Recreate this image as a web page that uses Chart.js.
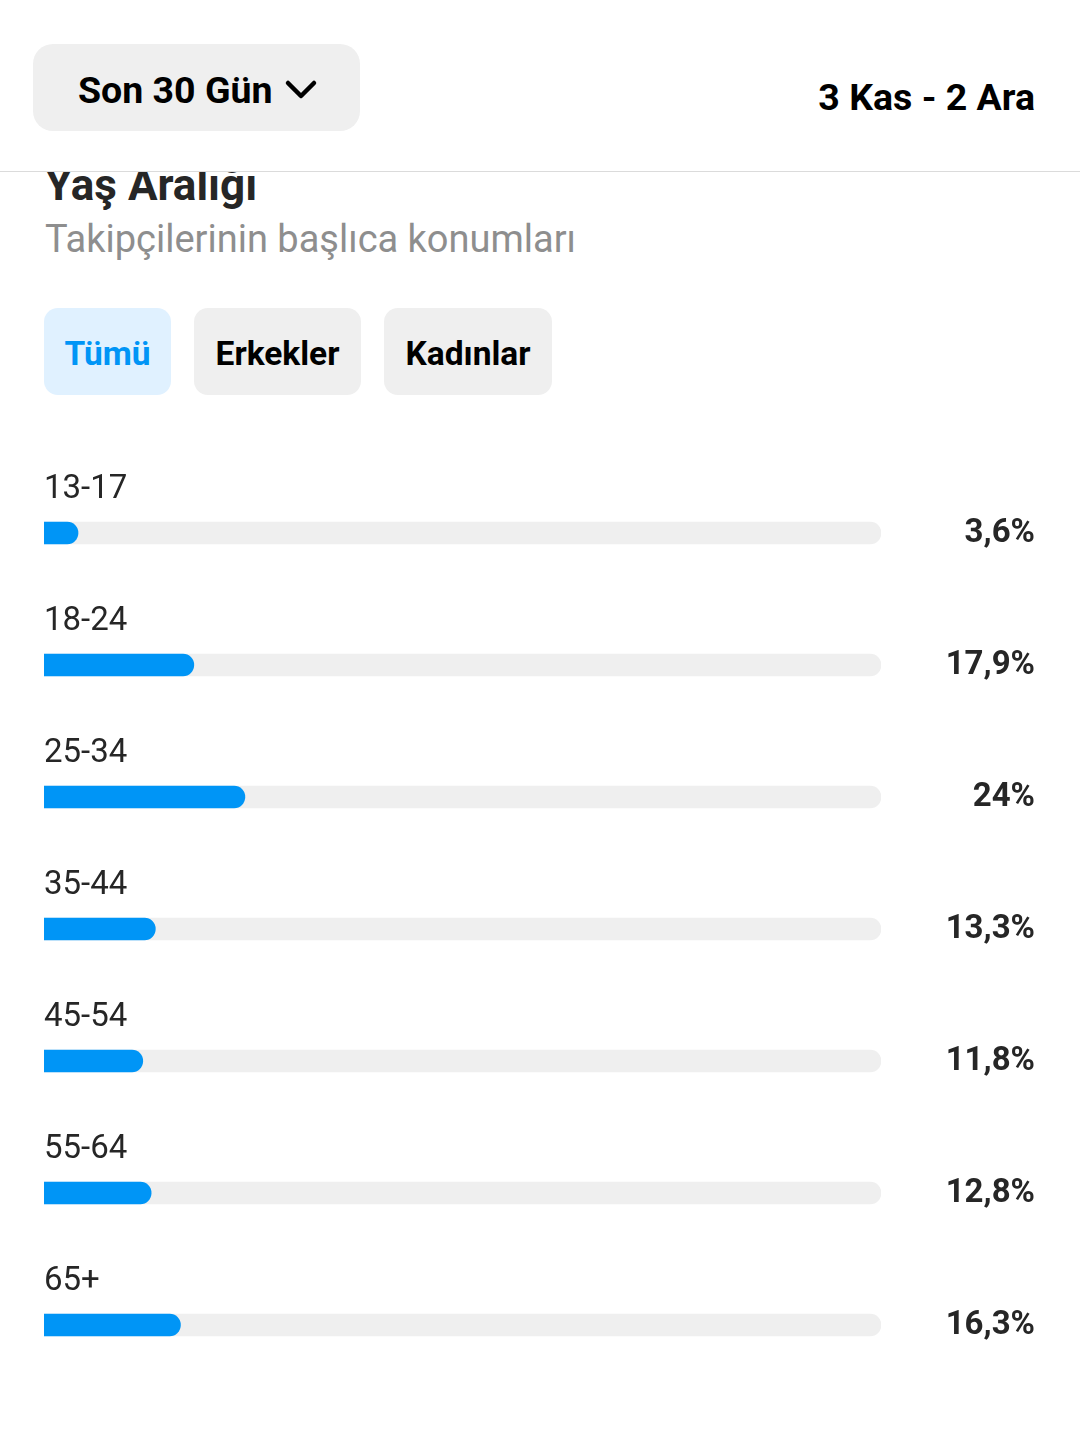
<!DOCTYPE html>
<html lang="tr">
<head>
  <meta charset="UTF-8" />
  <meta name="viewport" content="width=device-width, initial-scale=1.0" />
  <title>Yaş Aralığı</title>
  <script src="https://cdn.jsdelivr.net/npm/chart.js"></script>
  <style>
    html, body {
      margin: 0;
      padding: 0;
      background: #fff;
      font-family: Roboto, "Noto Sans", sans-serif;
      color: #262626;
    }
    .page {
      position: relative;
      width: 1080px;
      height: 1444px;
      overflow: hidden;
    }
    .header {
      position: absolute;
      left: 0; top: 0;
      width: 1080px;
      height: 171px;
      background: #fff;
      border-bottom: 1px solid #dbdbdb;
      z-index: 2;
    }
    .range-btn {
      position: absolute;
      left: 33px; top: 44px;
      width: 327px; height: 87px;
      background: #efefef;
      border-radius: 20px;
    }
    .range-btn span {
      position: absolute;
      left: 45px; top: 28px;
      font-size: 37.5px;
      font-weight: 700;
      line-height: 1;
      color: #000;
    }
    .range-btn svg {
      position: absolute;
      left: 251px; top: 35px;
    }
    .dates {
      position: absolute;
      right: 45px; top: 79px;
      font-size: 37.5px;
      font-weight: 700;
      line-height: 1;
      color: #000;
    }
    .title {
      position: absolute;
      left: 45px; top: 163px;
      font-size: 44px;
      font-weight: 700;
      line-height: 1;
      z-index: 1;
    }
    .subtitle {
      position: absolute;
      left: 45px; top: 220px;
      font-size: 38px;
      line-height: 1;
      color: #8e8e8e;
    }
    .tabs button {
      position: absolute;
      top: 308px;
      height: 87px;
      border: none;
      border-radius: 14px;
      background: #efefef;
      font-family: Roboto, sans-serif;
      font-size: 33.5px;
      font-weight: 700;
      color: #000;
      padding: 4px 0 0 0;
    }
    .tabs .active {
      background: #e0f1ff;
      color: #0095f6;
    }
    .chart-box {
      position: absolute;
      left: 0; top: 420px;
      width: 1080px; height: 1000px;
    }
  </style>
</head>
<body>
  <div class="page">
    <!-- Header -->
    <div class="header">
      <div class="range-btn">
        <span>Son 30 Gün</span>
        <svg width="34" height="24" viewBox="0 0 34 24">
          <polyline points="4,4 17,17 30,4" fill="none" stroke="#000" stroke-width="4.5" stroke-linecap="round" stroke-linejoin="round" />
        </svg>
      </div>
      <div class="dates">3 Kas - 2 Ara</div>
    </div>

    <div class="title">Yaş Aralığı</div>
    <div class="subtitle">Takipçilerinin başlıca konumları</div>

    <div class="tabs">
      <button class="active" style="left:44px;width:127px">Tümü</button>
      <button style="left:194px;width:167px">Erkekler</button>
      <button style="left:384px;width:168px">Kadınlar</button>
    </div>

    <div class="chart-box">
      <canvas id="ageChart"></canvas>
    </div>
  </div>

  <script>
    const ageGroups = ["13-17", "18-24", "25-34", "35-44", "45-54", "55-64", "65+"];
    const sharePct = [3.6, 17.9, 24, 13.3, 11.8, 12.8, 16.3];
    const trackPct = [100, 100, 100, 100, 100, 100, 100];

    // turkish style: decimal comma
    const fmt = v => String(v).replace(".", ",") + "%";

    const rowText = {
      id: "rowText",
      afterDatasetsDraw(chart) {
        const ctx = chart.ctx;
        const bars = chart.getDatasetMeta(0).data;
        ctx.save();
        ctx.fillStyle = "#262626";
        ctx.textBaseline = "alphabetic";
        bars.forEach((bar, i) => {
          ctx.font = "400 33px Roboto";
          ctx.textAlign = "left";
          ctx.fillText(ageGroups[i], chart.chartArea.left, bar.y - 35);
          ctx.font = "700 33px Roboto";
          ctx.textAlign = "right";
          ctx.fillText(fmt(sharePct[i]), 1035, bar.y + 9);
        });
        ctx.restore();
      }
    };

    new Chart(document.getElementById("ageChart"), {
      type: "bar",
      data: {
        labels: ageGroups,
        datasets: [
          {
            label: "Tümü",
            data: sharePct,
            backgroundColor: "#0095f6",
            borderRadius: 11,
            barThickness: 22,
            minBarLength: 34,
            grouped: false,
            order: 0
          },
          {
            label: "track",
            data: trackPct,
            backgroundColor: "#efefef",
            borderRadius: 11,
            barThickness: 22,
            grouped: false,
            order: 1
          }
        ]
      },
      options: {
        indexAxis: "y",
        responsive: true,
        maintainAspectRatio: false,
        animation: false,
        layout: { padding: { left: 44, right: 199, top: 47, bottom: 29 } },
        scales: {
          x: { min: 0, max: 100, display: false },
          y: { display: false }
        },
        plugins: {
          legend: { display: false },
          tooltip: { enabled: false }
        }
      },
      plugins: [rowText]
    });
  </script>
</body>
</html>
